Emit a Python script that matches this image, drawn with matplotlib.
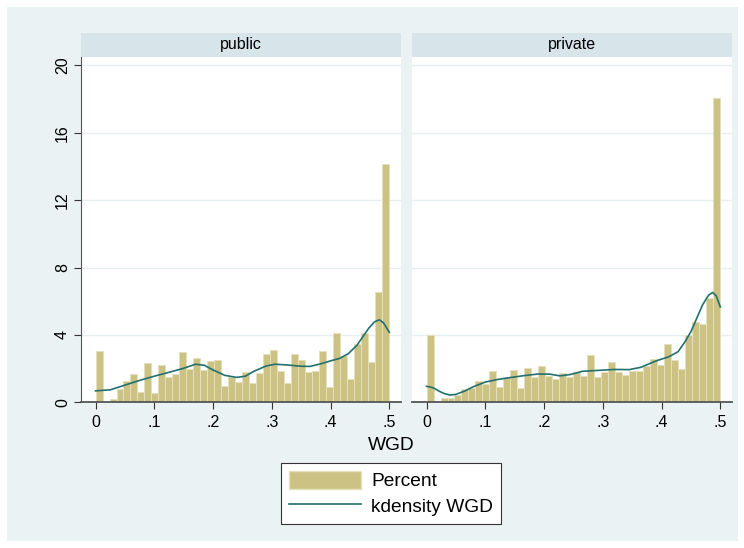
import numpy as np
import matplotlib.pyplot as plt
import matplotlib.patches as patches
from matplotlib.lines import Line2D

plt.rcParams['font.family'] = ['Liberation Sans', 'DejaVu Sans']

# histogram of WGD in percent, 42 equal bins between 0 and .5
n_bins = 42
bin_lo, bin_hi = 0.0, 0.5

pct_public = [3.05, 0.0, 0.2, 0.8, 1.25, 1.66, 0.6, 2.36, 0.55, 2.24,
              1.5, 1.66, 2.97, 1.95, 2.64, 1.91, 2.45, 2.5, 0.95, 1.48,
              1.18, 1.78, 1.15, 1.74, 2.88, 3.13, 1.85, 1.12, 2.84, 2.5,
              1.79, 1.85, 3.03, 0.91, 4.09, 2.72, 1.36, 3.47, 4.11, 2.42,
              6.53, 14.15]
pct_private = [3.98, 0.06, 0.24, 0.27, 0.43, 0.8, 0.85, 1.28, 1.1, 1.87,
               0.89, 1.52, 1.91, 0.83, 2.05, 1.48, 2.13, 1.56, 1.4, 1.72,
               1.5, 1.81, 1.59, 2.79, 1.48, 1.81, 2.37, 1.77, 1.61, 1.84,
               1.85, 2.18, 2.55, 2.2, 3.47, 2.5, 2.0, 4.01, 4.75, 4.63,
               6.22, 18.05]

# kdensity curves (percent scale)
kd_x_public = [0.0, 0.025, 0.05, 0.075, 0.1, 0.125, 0.15, 0.17, 0.185, 0.2,
               0.22, 0.24, 0.255, 0.27, 0.29, 0.305, 0.325, 0.35, 0.365,
               0.385, 0.4, 0.415, 0.43, 0.445, 0.455, 0.465, 0.475, 0.483,
               0.49, 0.496, 0.5]
kd_y_public = [0.68, 0.74, 1.02, 1.3, 1.55, 1.78, 2.02, 2.26, 2.2, 1.92,
               1.6, 1.48, 1.55, 1.85, 2.15, 2.26, 2.22, 2.14, 2.13,
               2.3, 2.46, 2.6, 2.88, 3.39, 3.9, 4.4, 4.78, 4.9,
               4.72, 4.38, 4.15]
kd_x_private = [0.0, 0.011, 0.022, 0.03, 0.04, 0.05, 0.065, 0.08, 0.1, 0.12,
                0.145, 0.165, 0.19, 0.21, 0.227, 0.245, 0.265, 0.295, 0.32,
                0.345, 0.365, 0.39, 0.412, 0.428, 0.44, 0.45, 0.46, 0.47,
                0.48, 0.487, 0.493, 0.5]
kd_y_private = [0.95, 0.87, 0.65, 0.52, 0.43, 0.47, 0.67, 0.93, 1.2, 1.35,
                1.48, 1.58, 1.68, 1.67, 1.57, 1.65, 1.84, 1.9, 1.95,
                1.94, 2.08, 2.45, 2.7, 3.0, 3.6, 4.2, 5.0, 5.8,
                6.36, 6.52, 6.32, 5.66]

panels = ['public', 'private']
yticks = [0, 4, 8, 12, 16, 20]
xticks = [0, .1, .2, .3, .4, .5]
xticklabels = ['0', '.1', '.2', '.3', '.4', '.5']

bg = '#EAF2F3'
strip_col = '#D7E4EA'
bar_col = '#CBC283'
bar_edge = '#E6E1BC'
line_col = '#23706E'
W, H = 744., 548.

fig = plt.figure(figsize=(W/100, H/100), dpi=100)
fig.patch.set_facecolor('white')
fig.patches.append(patches.Rectangle((7/W, 7/H), 731/W, 534/H,
                                     transform=fig.transFigure,
                                     facecolor=bg, edgecolor='none', zorder=-10))

edges = np.linspace(bin_lo, bin_hi, n_bins + 1)
width = edges[1] - edges[0]

data = [(pct_public, kd_x_public, kd_y_public),
        (pct_private, kd_x_private, kd_y_private)]
lefts = [81., 412.]
ax_w = 319.5
top, bot = 57., 402.3

for k, (pct, kx, ky) in enumerate(data):
    ax = fig.add_axes([lefts[k]/W, 1 - bot/H, ax_w/W, (bot - top)/H])
    ax.set_facecolor('white')
    ax.bar(edges[:-1], pct, width=width, align='edge', color=bar_col,
           edgecolor=bar_edge, linewidth=0.7, zorder=2)
    ax.plot(kx, ky, color=line_col, lw=1.2, zorder=3)
    ax.set_xlim(-0.0247, 0.519)
    ax.set_ylim(0, 20.5)
    ax.set_yticks(yticks)
    ax.set_xticks(xticks)
    ax.set_xticklabels(xticklabels, fontsize=11.5)
    for v in yticks[1:]:
        ax.axhline(v, color='#E6EEF0', lw=1.0, zorder=1)
    for s in ['top', 'right']:
        ax.spines[s].set_visible(False)
    ax.spines['bottom'].set_color('#555555')
    ax.spines['bottom'].set_linewidth(1.3)
    ax.tick_params(axis='x', length=5, width=0.8, pad=4, color='#333333')
    if k == 0:
        ax.spines['left'].set_color('#555555')
        ax.set_yticklabels([str(v) for v in yticks], rotation=90,
                           va='center', fontsize=11.5)
        ax.tick_params(axis='y', length=5, width=0.8, pad=3, color='#333333')
    else:
        ax.spines['left'].set_visible(False)
        ax.tick_params(axis='y', left=False, labelleft=False)

    # strip title
    sax = fig.add_axes([lefts[k]/W, 1 - top/H, ax_w/W, 24.3/H])
    sax.set_facecolor(strip_col)
    sax.set_xticks([])
    sax.set_yticks([])
    for s in sax.spines.values():
        s.set_visible(False)
    sax.text(0.5, 0.5, panels[k], ha='center', va='center', fontsize=11.5,
             transform=sax.transAxes)

fig.text(391/W, 1 - 445/H, 'WGD', ha='center', va='center', fontsize=13.8)

handles = [patches.Patch(facecolor=bar_col, edgecolor=bar_edge),
           Line2D([], [], color=line_col, lw=1.2)]
leg = fig.legend(handles, ['Percent', 'kdensity WGD'], loc='upper center',
                 bbox_to_anchor=(391/W, 1 - 463.3/H), fontsize=13.8,
                 frameon=True, fancybox=False, shadow=False, framealpha=1,
                 edgecolor='#333333', handlelength=3.75, handleheight=1.05,
                 handletextpad=0.55, labelspacing=0.33, borderpad=0.4,
                 borderaxespad=0)
leg.get_frame().set_linewidth(0.8)

fig.savefig('out.png', dpi=100)
